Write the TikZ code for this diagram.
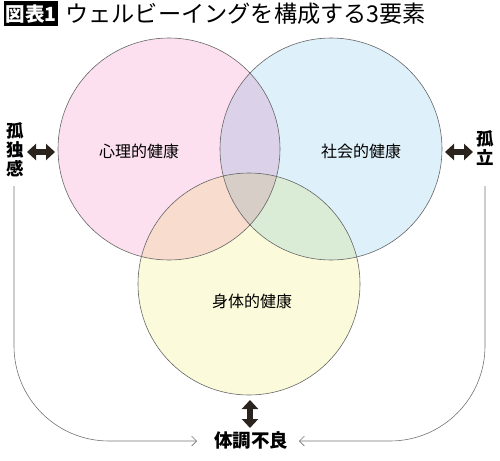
\documentclass[tikz,border=0pt]{standalone}
\usepackage{fontspec}
\setmainfont{Noto Sans CJK JP}
\usepackage{xcolor}
\usepackage{tikz}
\usetikzlibrary{arrows.meta}

\definecolor{pinkc}{HTML}{FCE0EF}
\definecolor{bluec}{HTML}{DEF0FA}
\definecolor{yellowc}{HTML}{FBFBDB}
\definecolor{arrowc}{HTML}{2B241E}

\tikzset{
  circ/.style={draw=black!60, line width=0.6pt},
  fatarrow/.style={arrowc, line width=6pt, {Triangle[length=9pt,width=16pt]}-{Triangle[length=9pt,width=16pt]}},
  thinline/.style={draw=black!55, line width=0.6pt, rounded corners=95pt, -{Straight Barb[length=5pt,width=10pt]}},
  side/.style={font=\bfseries\fontsize{17.5}{20}\selectfont, align=center, inner sep=0pt},
  lab/.style={font=\fontsize{16}{18}\selectfont}
}

\begin{document}
\begin{tikzpicture}[x=1pt,y=-1pt]
		\useasboundingbox (0,0) rectangle (500,460);
		% title
		\node[fill=black, text=white, font=\bfseries\fontsize{19.5}{20}\selectfont, inner sep=2pt, minimum height=25pt] (T0) at (31,14) {図表1};
		\node[anchor=west, font=\fontsize{23.2}{26}\selectfont, inner sep=0pt] (T1) at (65,14) {ウェルビーイングを構成する3要素};
		% circles
		\begin{scope}[blend mode=multiply]
		\fill[pinkc] (169,149) circle (111);
		\fill[bluec] (331,149) circle (111);
		\fill[yellowc] (249,284) circle (111);
		\end{scope}
		\draw[circ] (169,149) circle (111);
		\draw[circ] (331,149) circle (111);
		\draw[circ] (249,284) circle (111);
		\node[lab] (P) at (139,151) {心理的健康};
		\node[lab] (S) at (361,151) {社会的健康};
		\node[lab] (B) at (252,301) {身体的健康};
		% sides
		\node[side] (L) at (15,150) {孤\\[-1pt]独\\[-1pt]感};
		\node[side] (R) at (485,148) {孤\\[-1pt]立};
		\node[font=\bfseries\fontsize{18.5}{20}\selectfont, inner sep=0pt] (Bad) at (251,440) {体調不良};
		\coordinate (La) at (27,152);
		\coordinate (Lb) at (55,152);
		\coordinate (Ra) at (445,152);
		\coordinate (Rb) at (473,152);
		\coordinate (Ba) at (250,400);
		\coordinate (Bb) at (250,428);
		\draw[fatarrow] (La) to (Lb);
		\draw[fatarrow] (Ra) to (Rb);
		\draw[fatarrow] (Ba) to (Bb);
		\coordinate (Lc) at (14,186);
		\coordinate (Rc) at (485,186);
		\coordinate (Bl) at (197,441);
		\coordinate (Br) at (299,441);
		\draw[thinline] (Lc) |- (Bl);
		\draw[thinline] (Rc) |- (Br);
\end{tikzpicture}
\end{document}
